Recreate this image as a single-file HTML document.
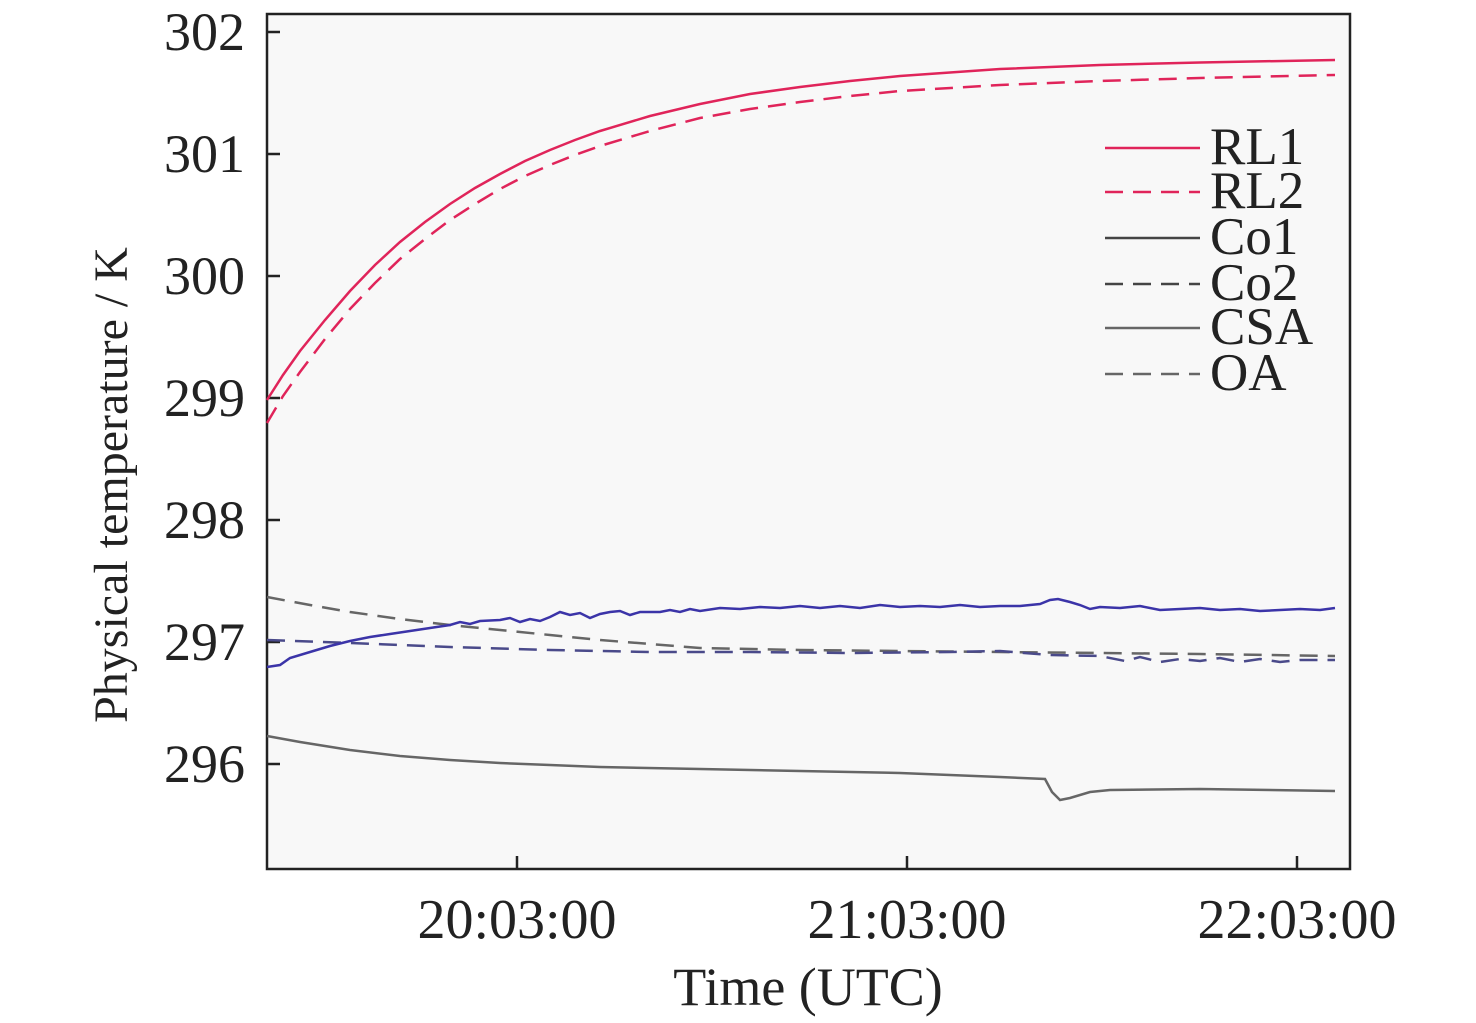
<!DOCTYPE html><html><head><style>body{margin:0;background:#fff}svg{display:block}text{font-family:"Liberation Serif",serif;fill:#222}</style></head><body>
<svg width="1476" height="1023" xmlns="http://www.w3.org/2000/svg">
<rect x="267" y="14" width="1083" height="855" fill="#f8f8f8" stroke="#222" stroke-width="2.5"/>
<g stroke="#222" stroke-width="2.5">
<line x1="267" y1="32" x2="280" y2="32"/><line x1="267" y1="154" x2="280" y2="154"/><line x1="267" y1="276" x2="280" y2="276"/><line x1="267" y1="398" x2="280" y2="398"/><line x1="267" y1="520" x2="280" y2="520"/><line x1="267" y1="642" x2="280" y2="642"/><line x1="267" y1="764" x2="280" y2="764"/>
<line x1="517" y1="869" x2="517" y2="856"/><line x1="907" y1="869" x2="907" y2="856"/><line x1="1297" y1="869" x2="1297" y2="856"/>
</g>
<g font-size="54" text-anchor="end">
<text x="245" y="50">302</text><text x="245" y="172">301</text><text x="245" y="294">300</text><text x="245" y="416">299</text><text x="245" y="538">298</text><text x="245" y="660">297</text><text x="245" y="782">296</text>
</g>
<g font-size="56" text-anchor="middle">
<text x="517" y="938">20:03:00</text><text x="907" y="938">21:03:00</text><text x="1297" y="938">22:03:00</text>
</g>
<text x="808" y="1005" font-size="54" text-anchor="middle">Time (UTC)</text>
<text transform="translate(127,485) rotate(-90)" font-size="48" text-anchor="middle">Physical temperature / K</text>
<g fill="none" stroke-width="2.5">
<polyline stroke="#666" stroke-dasharray="18,10" points="267,597 310,605 350,612 400,619 450,625 500,630 550,635 600,640 650,644 700,648 800,650 900,651 1000,652 1100,653 1200,654 1335,656"/>
<polyline stroke="#4a4a8a" stroke-dasharray="18,10" points="267,640 350,643 450,647 550,650 650,652 750,652 850,653 950,652 1000,651 1050,655 1100,656 1125,661 1140,657 1160,662 1180,659 1200,661 1220,658 1240,662 1260,659 1280,662 1300,660 1335,660"/>
<polyline stroke="#666" points="267,736 300,742 350,750 400,756 450,760 500,763 550,765 600,767 700,769 800,771 900,773 1000,777 1045,779 1052,792 1060,800 1070,798 1090,792 1110,790 1200,789 1335,791"/>
<polyline stroke="#3b34a8" points="267,667 280,665 290,658 310,652 330,646 350,641 370,637 390,634 410,631 430,628 450,625 460,622 470,624 480,621 500,620 510,618 520,622 530,619 540,621 550,617 560,612 570,615 580,613 590,618 600,614 610,612 620,611 630,615 640,612 660,612 670,610 680,612 690,609 700,611 720,608 740,609 760,607 780,608 800,606 820,608 840,606 860,608 880,605 900,607 920,606 940,607 960,605 980,607 1000,606 1020,606 1040,604 1050,600 1058,599 1070,602 1080,605 1090,609 1100,607 1120,608 1140,606 1160,610 1180,609 1200,608 1220,610 1240,609 1260,611 1280,610 1300,609 1320,610 1335,608"/>
<polyline stroke="#e0245a" stroke-dasharray="18,10" points="267,423 283,396 300,372 325,339 350,309 375,283 400,259 425,239 450,220 475,204 500,189 525,176 550,165 575,155 600,146 650,131 700,118 750,109 800,102 850,96 900,91 1000,85 1100,81 1200,78 1335,75"/>
<polyline stroke="#e0245a" points="267,400 283,375 300,351 325,320 350,291 375,265 400,242 425,222 450,204 475,188 500,174 525,161 550,150 575,140 600,131 650,116 700,104 750,94 800,87 850,81 900,76 1000,69 1100,65 1200,62.5 1335,60"/>
</g>
<g stroke-width="2.5">
<line x1="1105" y1="148" x2="1200" y2="148" stroke="#e0245a"/>
<line x1="1105" y1="192" x2="1200" y2="192" stroke="#e0245a" stroke-dasharray="18,10"/>
<line x1="1105" y1="238" x2="1200" y2="238" stroke="#444"/>
<line x1="1105" y1="284" x2="1200" y2="284" stroke="#444" stroke-dasharray="18,10"/>
<line x1="1105" y1="328" x2="1200" y2="328" stroke="#666"/>
<line x1="1105" y1="374" x2="1200" y2="374" stroke="#666" stroke-dasharray="18,10"/>
</g>
<g font-size="53"><text x="1210" y="164">RL1</text><text x="1210" y="208">RL2</text><text x="1210" y="254">Co1</text><text x="1210" y="300">Co2</text><text x="1210" y="344">CSA</text><text x="1210" y="390">OA</text></g>
</svg></body></html>
